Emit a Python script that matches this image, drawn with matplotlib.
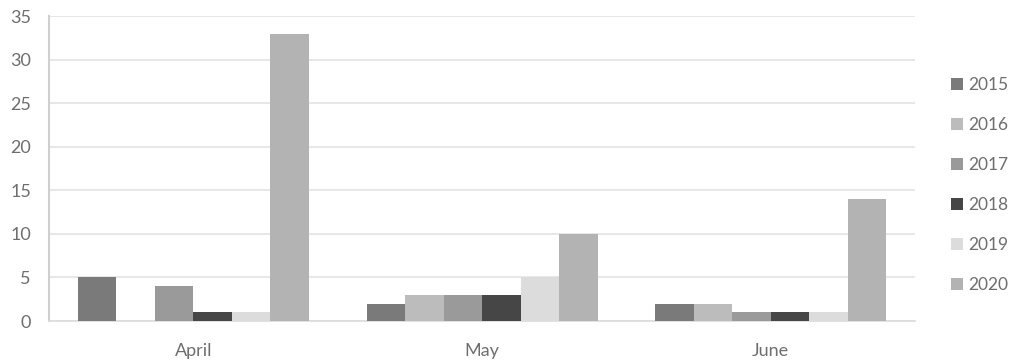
import matplotlib
matplotlib.use("Agg")
import matplotlib.pyplot as plt
import numpy as np

categories = ["April", "May", "June"]
years = ["2015", "2016", "2017", "2018", "2019", "2020"]
v2015 = [5, 2, 2]
v2016 = [0, 3, 2]
v2017 = [4, 3, 1]
v2018 = [1, 3, 1]
v2019 = [1, 5, 1]
v2020 = [33, 10, 14]
series = [v2015, v2016, v2017, v2018, v2019, v2020]
colors = ["#7a7a7a", "#bcbcbc", "#9a9a9a", "#464646", "#dcdcdc", "#b3b3b3"]

plt.rcParams['font.family'] = ['Lato', 'DejaVu Sans']
fig = plt.figure(figsize=(10.13, 3.63), dpi=100)
ax = fig.add_axes([0.0484, 0.1157, 0.855, 0.84])

x = np.arange(len(categories))
group_w = 0.8
bw = group_w / len(series)
for i, (vals, c, yr) in enumerate(zip(series, colors, years)):
    ax.bar(x - group_w / 2 + bw * (i + 0.5), vals, width=bw, color=c, label=yr, zorder=3)

ax.set_xlim(-0.5, 2.5)
ax.set_ylim(0, 35)
ax.set_yticks(range(0, 36, 5))
ax.set_xticks(x)
ax.set_xticklabels(categories)
ax.yaxis.grid(True, color="#e3e3e3", linewidth=1.2, zorder=0)
ax.set_axisbelow(True)
for s in ["top", "right"]:
    ax.spines[s].set_visible(False)
ax.spines["left"].set_color("#cfcfcf")
ax.spines["left"].set_linewidth(1.5)
ax.spines["bottom"].set_color("#dcdcdc")
ax.spines["bottom"].set_linewidth(1.2)
ax.tick_params(axis="both", length=0, colors="#6e6e6e", labelsize=13)
ax.tick_params(axis="y", pad=13)
ax.tick_params(axis="x", pad=15.5)

leg = fig.legend(loc="upper left", bbox_to_anchor=(0.930, 0.812), frameon=False,
                 fontsize=12.5, handlelength=0.7, handleheight=0.7,
                 handletextpad=0.3, labelspacing=1.38, borderpad=0)
for t in leg.get_texts():
    t.set_color("#6e6e6e")

fig.savefig("out.png", dpi=100)
